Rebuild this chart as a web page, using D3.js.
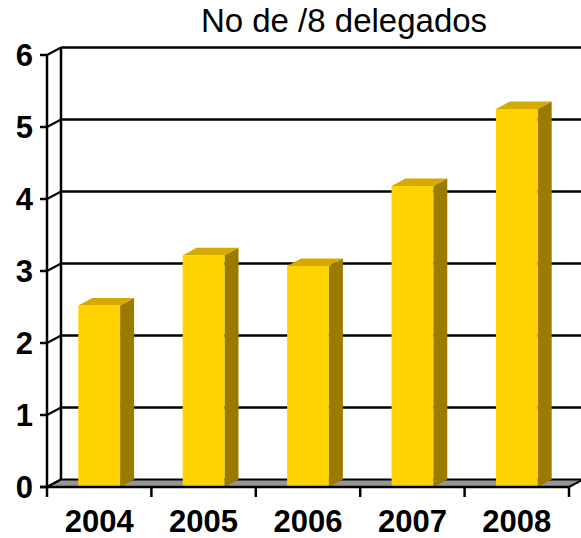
<!DOCTYPE html>
<html><head><meta charset="utf-8">
<script src="https://cdn.jsdelivr.net/npm/d3@7"></script>
<style>body{margin:0;background:#fff}svg{display:block}</style>
</head><body>
<svg id="c" width="581" height="538"></svg>
<script>
const title = "No de /8 delegados";
const years = ["2004","2005","2006","2007","2008"];
const values = [2.52, 3.22, 3.07, 4.18, 5.25];
const yTicks = [0,1,2,3,4,5,6];

const svg = d3.select("#c");
const dx = 14, dy = -7.5;
const x = d3.scaleBand().domain(years).range([47, 569]).padding(0);
const y = d3.scaleLinear().domain([0, 6]).range([487, 55]);
const barW = x.bandwidth() * 0.4;

const cFront = "#FFD200", cTop = "#D4AA00", cSide = "#9A7B00";

// back wall gridlines
svg.append("g").selectAll("line").data(yTicks.filter(d => d > 0)).join("line")
  .attr("x1", 47 + dx).attr("x2", 583)
  .attr("y1", d => y(d) + dy).attr("y2", d => y(d) + dy)
  .attr("stroke", "#000").attr("stroke-width", 2.5);

// left wall: back vertical + diagonals
svg.append("line").attr("x1", 47 + dx).attr("x2", 47 + dx)
  .attr("y1", y(0) + dy).attr("y2", y(6) + dy).attr("stroke", "#000").attr("stroke-width", 2.5);
svg.append("g").selectAll("line").data(yTicks).join("line")
  .attr("x1", 47).attr("x2", 47 + dx)
  .attr("y1", d => y(d)).attr("y2", d => y(d) + dy)
  .attr("stroke", "#000").attr("stroke-width", 2);

// floor
const x0 = x.range()[0], x1 = x.range()[1];
svg.append("path")
  .attr("d", `M${x0},${y(0)}L${x1},${y(0)}L${x1 + dx},${y(0) + dy}L${x0 + dx},${y(0) + dy}Z`)
  .attr("fill", "#969696").attr("stroke", "#000").attr("stroke-width", 2);

// bars
const bars = svg.append("g").selectAll("g").data(years.map((k, i) => ({k, v: values[i]}))).join("g");
bars.append("path").attr("fill", cSide)
  .attr("d", d => {
    const bx = x(d.k) + (x.bandwidth() - barW) / 2 + barW;
    return `M${bx},${y(d.v)}L${bx + dx},${y(d.v) + dy}L${bx + dx},${y(0) + dy}L${bx},${y(0)}Z`;
  });
bars.append("path").attr("fill", cTop)
  .attr("d", d => {
    const bx = x(d.k) + (x.bandwidth() - barW) / 2;
    return `M${bx},${y(d.v)}L${bx + dx},${y(d.v) + dy}L${bx + barW + dx},${y(d.v) + dy}L${bx + barW},${y(d.v)}Z`;
  });
bars.append("rect").attr("fill", cFront)
  .attr("x", d => x(d.k) + (x.bandwidth() - barW) / 2)
  .attr("y", d => y(d.v)).attr("width", barW).attr("height", d => y(0) - y(d.v));

// front axes
svg.append("line").attr("x1", 47).attr("x2", 47).attr("y1", y(6)).attr("y2", y(0) + 1)
  .attr("stroke", "#000").attr("stroke-width", 2.5);
svg.append("g").selectAll("line").data(yTicks).join("line")
  .attr("x1", 40).attr("x2", 47).attr("y1", d => y(d)).attr("y2", d => y(d))
  .attr("stroke", "#000").attr("stroke-width", 2.5);
svg.append("line").attr("x1", x0 - 7).attr("x2", x1).attr("y1", y(0)).attr("y2", y(0))
  .attr("stroke", "#000").attr("stroke-width", 2.5);
const bounds = years.map(k => x(k)).concat([x1]);
svg.append("g").selectAll("line").data(bounds).join("line")
  .attr("x1", d => d).attr("x2", d => d).attr("y1", y(0)).attr("y2", y(0) + 10)
  .attr("stroke", "#000").attr("stroke-width", 2.5);

// labels
svg.append("g").selectAll("text").data(yTicks).join("text")
  .attr("x", 33).attr("y", d => y(d)).attr("dy", "0.36em")
  .attr("text-anchor", "end").attr("font-family", "Liberation Sans, Arial, sans-serif")
  .attr("font-weight", "bold").attr("font-size", 31).text(d => d);
svg.append("g").selectAll("text").data(years).join("text")
  .attr("x", d => x(d) + x.bandwidth() / 2).attr("y", 532)
  .attr("text-anchor", "middle").attr("font-family", "Liberation Sans, Arial, sans-serif")
  .attr("font-weight", "bold").attr("font-size", 31).text(d => d);
svg.append("text").attr("x", 344).attr("y", 32).attr("text-anchor", "middle")
  .attr("font-family", "Liberation Sans, Arial, sans-serif").attr("font-size", 33).text(title);
</script>
</body></html>
